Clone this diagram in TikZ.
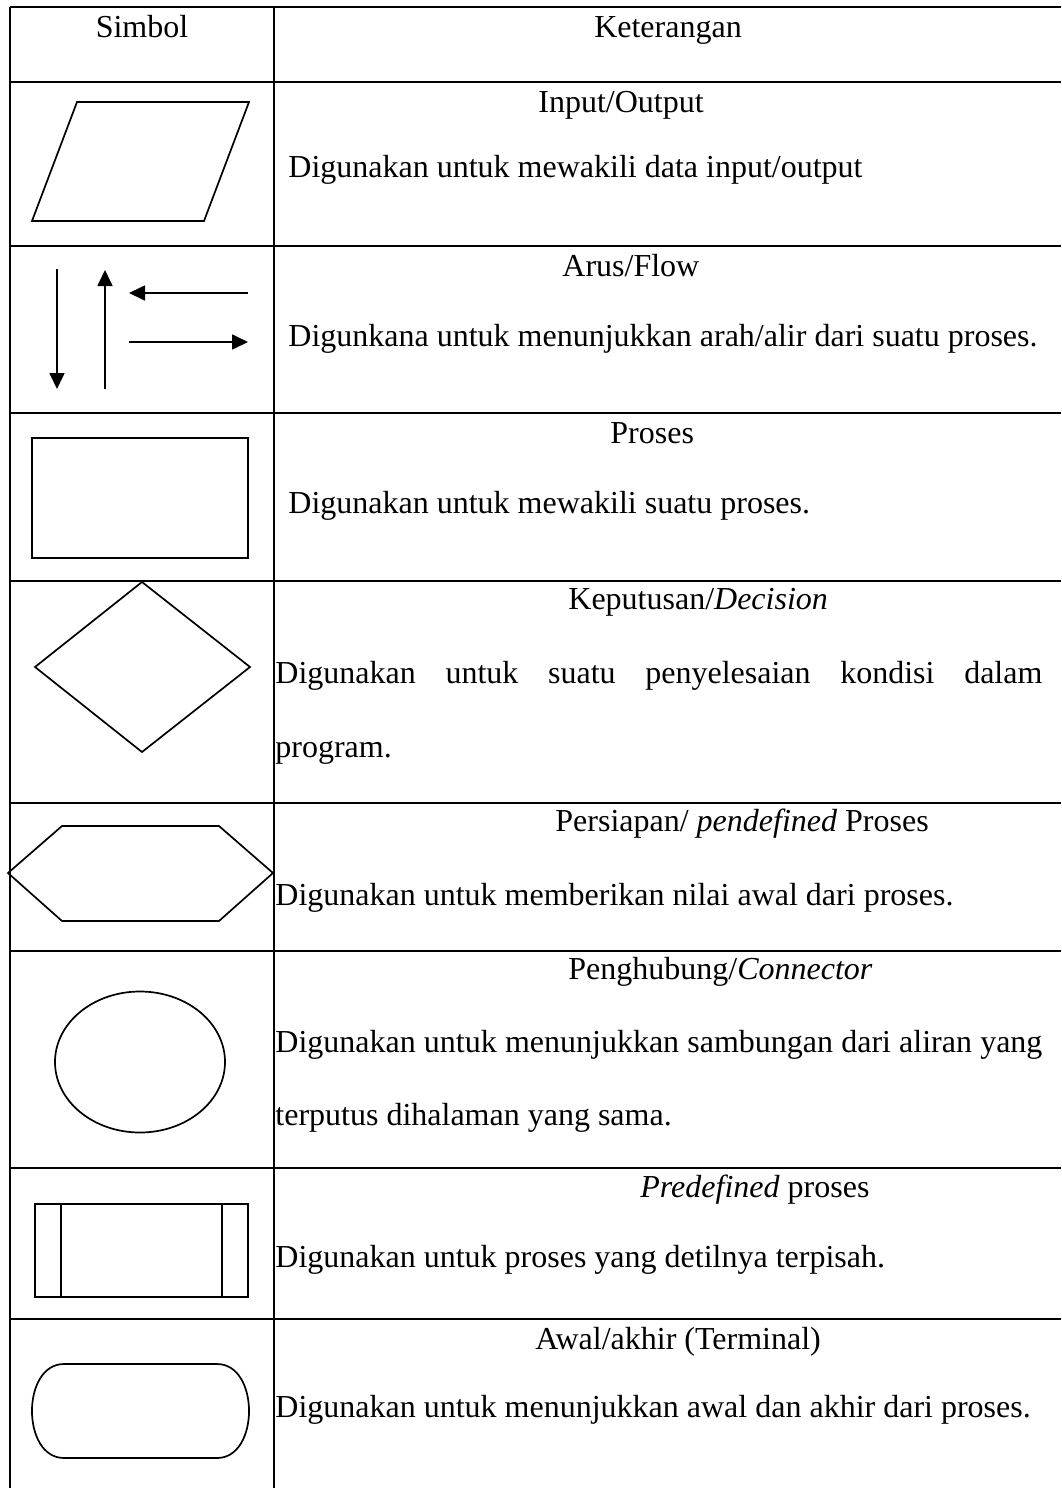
\documentclass[tikz,border=0pt]{standalone}
\usepackage{fontspec}
\setmainfont{Liberation Serif}
\usetikzlibrary{arrows.meta}

\begin{document}
\begin{tikzpicture}[x=0.5pt,y=-0.5pt,
  rule/.style={line width=0.85pt},
  sym/.style={line width=0.85pt, line join=miter},
  flow/.style={sym, -{Triangle[length=8pt,width=7.5pt]}},
  txt/.style={anchor=base west, inner sep=0pt, font=\fontsize{16}{19}\selectfont},
  head/.style={anchor=base, inner sep=0pt, font=\fontsize{16}{19}\selectfont}]
\useasboundingbox[fill=white] (0,0) rectangle (1061,1488);

% table rules
\foreach \yy in {7,82,246,413,581,803,951,1168,1319}
  \draw[rule] (10,\yy) -- (1061,\yy);
\draw[rule] (10,7) -- (10,1488);
\draw[rule] (274,7) -- (274,1488);

% header
\node[head] (hsym) at (142,37) {Simbol};
\node[head] (hket) at (668,37) {Keterangan};

% input/output
\draw[sym] (77,102) -- (249,102) -- (204,221) -- (32,221) -- cycle;
\node[txt] (t1) at (538,112) {Input/Output};
\node[txt] (d1) at (288,177) {Digunakan untuk mewakili data input/output};

% flow arrows
\coordinate (a1s) at (57,269);  \coordinate (a1e) at (57,389);
\coordinate (a2s) at (105,389); \coordinate (a2e) at (105,270);
\coordinate (a3s) at (248,293); \coordinate (a3e) at (129,293);
\coordinate (a4s) at (129,342); \coordinate (a4e) at (248,342);
\draw[flow] (a1s) -- (a1e);
\draw[flow] (a2s) -- (a2e);
\draw[flow] (a3s) -- (a3e);
\draw[flow] (a4s) -- (a4e);
\node[txt] (t2) at (562,276) {Arus/Flow};
\node[txt] (d2) at (288,346) {Digunkana untuk menunjukkan arah/alir dari suatu proses.};

% process
\draw[sym] (32,438) rectangle (248,558);
\node[txt] (t3) at (610,443) {Proses};
\node[txt] (d3) at (288,513) {Digunakan untuk mewakili suatu proses.};

% decision
\draw[sym] (142,582) -- (250,667) -- (142,752) -- (35,667) -- cycle;
\node[txt] (t4) at (568,609) {Keputusan/\textit{Decision}};
\node[txt] (d4a) at (275,683) {\makebox[383.5pt][s]{Digunakan untuk suatu penyelesaian kondisi dalam}};
\node[txt] (d4b) at (275,757) {program.};

% preparation
\draw[sym] (8,873) -- (62,826) -- (219,826) -- (273,873) -- (219,921) -- (62,921) -- cycle;
\node[txt] (t5) at (555,831) {Persiapan/ \textit{pendefined} Proses};
\node[txt] (d5) at (275,905) {Digunakan untuk memberikan nilai awal dari proses.};

% connector
\draw[sym] (140,1062) ellipse [x radius=85, y radius=70.5];
\node[txt] (t6) at (568,979) {Penghubung/\textit{Connector}};
\node[txt] (d6a) at (275,1052) {\makebox[383.5pt][s]{Digunakan untuk menunjukkan sambungan dari aliran yang}};
\node[txt] (d6b) at (275,1125) {terputus dihalaman yang sama.};

% predefined process
\draw[sym] (35,1204) rectangle (248,1297);
\draw[sym] (61,1204) -- (61,1297);
\draw[sym] (222,1204) -- (222,1297);
\node[txt] (t7) at (640,1197) {\textit{Predefined} proses};
\node[txt] (d7) at (275,1267) {Digunakan untuk proses yang detilnya terpisah.};

% terminal
\draw[sym] (64,1364) -- (217,1364)
  .. controls (259.7,1364) and (259.7,1458) .. (217,1458)
  -- (64,1458)
  .. controls (21.3,1458) and (21.3,1364) .. (64,1364) -- cycle;
\node[txt] (t8) at (535,1349) {Awal/akhir (Terminal)};
\node[txt] (d8) at (275,1417) {Digunakan untuk menunjukkan awal dan akhir dari proses.};
\end{tikzpicture}
\end{document}
